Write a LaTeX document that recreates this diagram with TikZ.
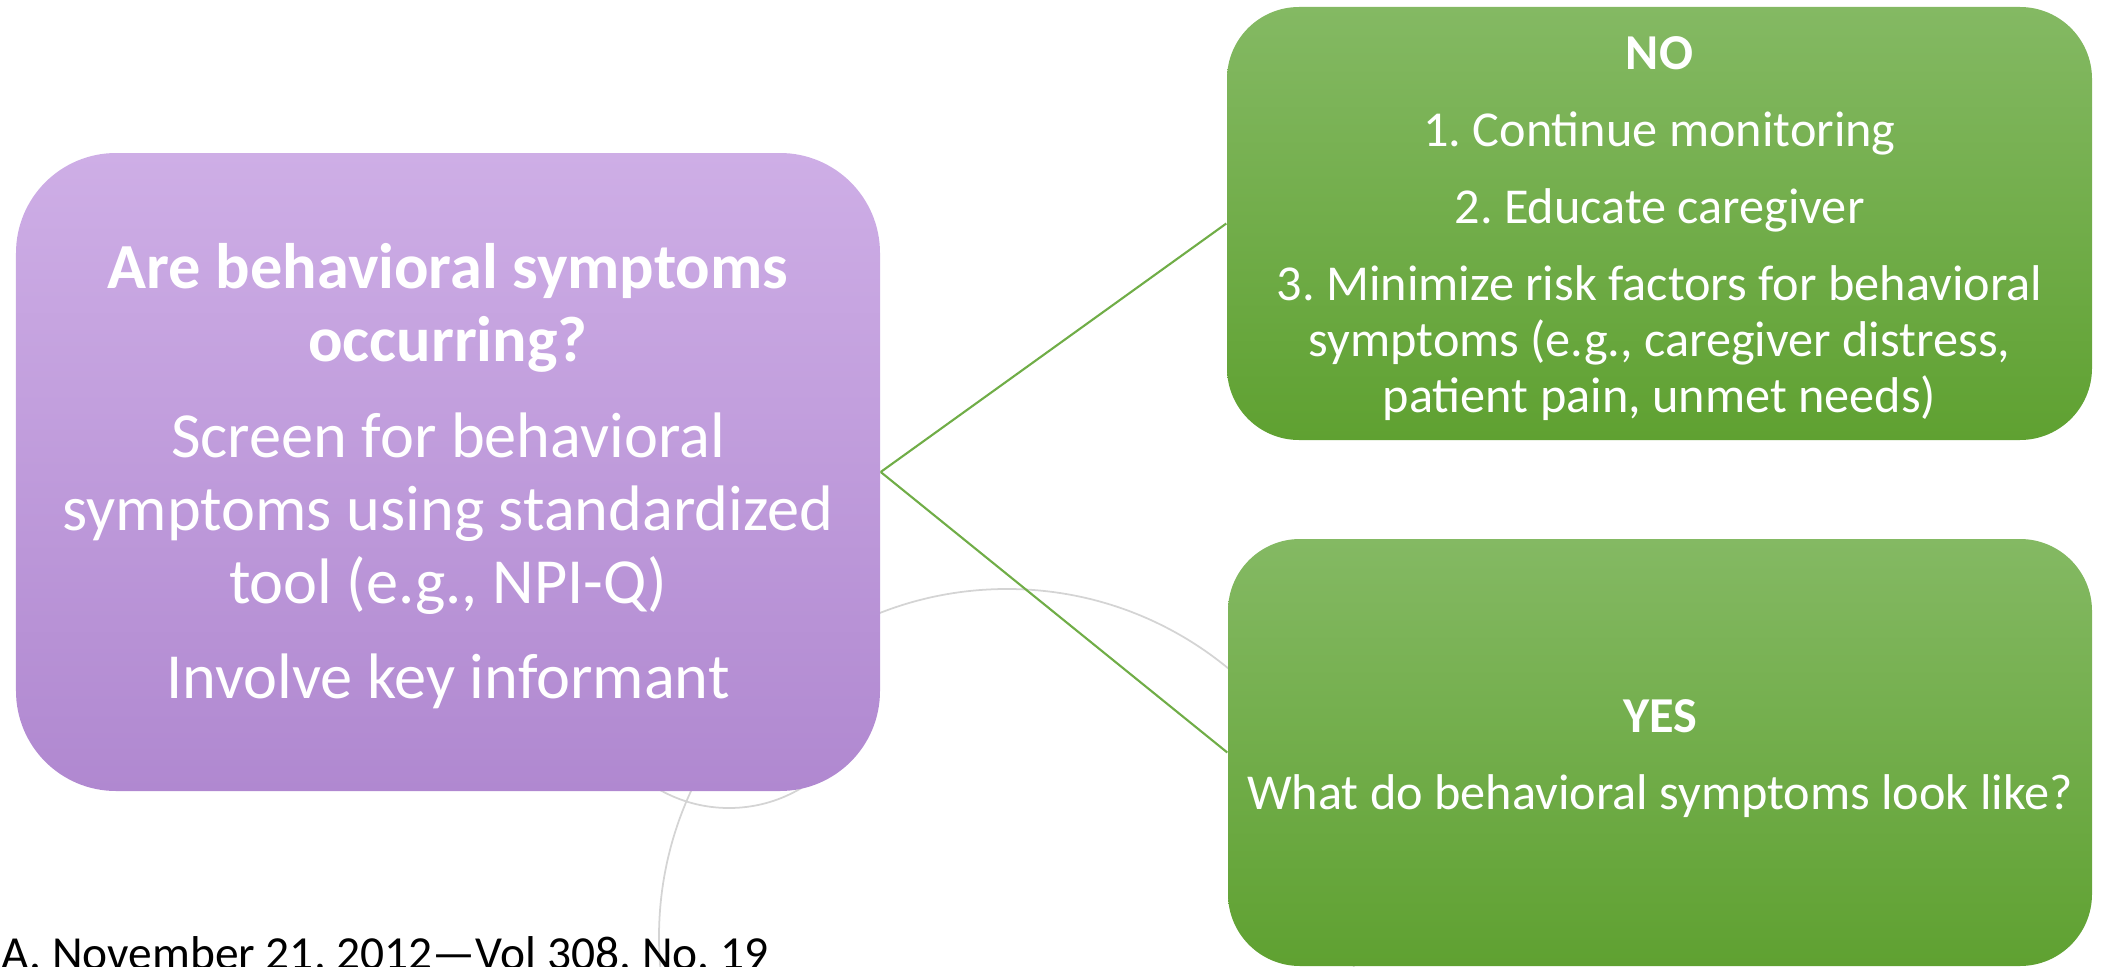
\documentclass[tikz,border=0pt]{standalone}
\usepackage{fontspec}
\setmainfont{Carlito}
\frenchspacing

\definecolor{lilactop}{RGB}{206,174,230}
\definecolor{lilacbot}{RGB}{176,136,208}
\definecolor{leaftop}{RGB}{132,185,99}
\definecolor{leafbot}{RGB}{95,161,49}
\definecolor{leafline}{RGB}{112,173,71}
\definecolor{ringgray}{RGB}{212,212,212}

% extra room above a first line, to sit the text a bit lower
\newcommand{\lowerby}[2]{\raisebox{0pt}[\dimexpr\height+#1\relax]{#2}}

\tikzset{
	card/.style={rectangle, inner sep=0pt, text=white, align=center},
	lilaccard/.style={card, rounded corners=1cm, top color=lilactop, bottom color=lilacbot,
		font=\fontsize{18.3}{20.8}\selectfont},
	leafcard/.style={card, rounded corners=0.72cm, top color=leaftop, bottom color=leafbot,
		font=\fontsize{14.3}{15.9}\selectfont},
	branch/.style={draw=leafline, line width=0.6pt},
	ring/.style={draw=ringgray, line width=0.5pt}
}

\begin{document}
\begin{tikzpicture}

	\useasboundingbox (0,0) rectangle (21.01,-9.67);
	\clip (0,0) rectangle (21.01,-9.67);

	% faint rings behind the cards
	\draw[ring] (10.07,-9.37) circle [radius=3.48];
	\draw[ring] (7.29,-6.67) circle [radius=1.41];

	\node[lilaccard, minimum width=8.64cm, minimum height=6.38cm] (screen) at (4.48,-4.72) {\lowerby{2.2pt}{\textbf{Are behavioral symptoms}}\\\textbf{occurring?}\\[6.5pt]
	Screen for behavioral\\symptoms using standardized\\tool (e.g., NPI-Q)\\[6.3pt]
	Involve key informant};

	\node[leafcard, minimum width=8.65cm, minimum height=4.33cm] (no) at (16.595,-2.235) {\lowerby{3pt}{\textbf{NO}}\\[6pt]
	1. Continue monitoring\\[6pt]
	2. Educate caregiver\\[6pt]
	3. Minimize risk factors for behavioral\\symptoms (e.g., caregiver distress,\\patient pain, unmet needs)};

	\node[leafcard, minimum width=8.64cm, minimum height=4.27cm] (yes) at (16.6,-7.525) {\lowerby{3.4pt}{\textbf{YES}}\\[5.8pt]
	What do behavioral symptoms look like?};

	\foreach \j in {no, yes}
	{
		\path[branch] (screen.east) -- (\j.west);
	};

	\node[anchor=base west, inner sep=0pt, font=\fontsize{13.5}{16}\selectfont] (cite) at (0.01,-9.69) {A. November 21, 2012—Vol 308, No. 19};

\end{tikzpicture}
\end{document}
